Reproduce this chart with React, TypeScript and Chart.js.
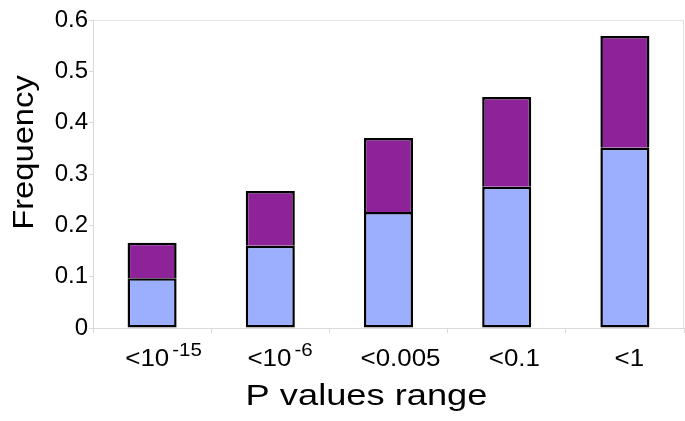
import React, { useEffect, useRef } from "react";
import { Chart, registerables } from "chart.js";

Chart.register(...registerables);

const categoryBase = ["<10", "<10", "<0.005", "<0.1", "<1"];
const categoryExp = ["-15", "-6", "", "", ""];
const lowerValues = [0.097, 0.16, 0.226, 0.275, 0.351];
const upperValues = [0.069, 0.107, 0.144, 0.175, 0.218];
const yTickLabels = ["0", "0.1", "0.2", "0.3", "0.4", "0.5", "0.6"];
const xTitle = "P values range";
const yTitle = "Frequency";

const FONT = "'Liberation Sans', Arial, Helvetica, sans-serif";
const AXIS_GRAY = "#d9d9d9";

const textPlugin = {
  id: "customText",
  beforeDatasetsDraw(chart: any) {
    const { ctx, chartArea } = chart;
    ctx.save();
    ctx.strokeStyle = "#e3e3e3";
    ctx.lineWidth = 1;
    ctx.beginPath();
    ctx.moveTo(chartArea.left, chartArea.top + 0.5);
    ctx.lineTo(chartArea.right - 0.5, chartArea.top + 0.5);
    ctx.lineTo(chartArea.right - 0.5, chartArea.bottom);
    ctx.stroke();
    ctx.restore();
  },
  afterDraw(chart: any) {
    const { ctx, chartArea } = chart;
    const xs = chart.scales.x;
    ctx.save();
    ctx.fillStyle = "#000";
    ctx.textBaseline = "alphabetic";
    ctx.textAlign = "left";
    const sx = 1.08;
    for (let i = 0; i < categoryBase.length; i++) {
      const cx = xs.getPixelForTick(i);
      ctx.font = `24px ${FONT}`;
      const wb = ctx.measureText(categoryBase[i]).width * sx;
      ctx.font = `19px ${FONT}`;
      const we = categoryExp[i] ? ctx.measureText(categoryExp[i]).width * sx + 3 : 0;
      const w = wb + we;
      const left = cx - 0.35 * w;
      ctx.save();
      ctx.translate(left, chartArea.bottom + 38);
      ctx.scale(sx, 1);
      ctx.font = `24px ${FONT}`;
      ctx.fillText(categoryBase[i], 0, 0);
      ctx.restore();
      if (categoryExp[i]) {
        ctx.save();
        ctx.translate(left + wb + 3, chartArea.bottom + 28);
        ctx.scale(sx, 1);
        ctx.font = `19px ${FONT}`;
        ctx.fillText(categoryExp[i], 0, 0);
        ctx.restore();
      }
    }
    // x title
    ctx.save();
    ctx.translate((chartArea.left + chartArea.right) / 2 - 22, chartArea.bottom + 77);
    ctx.scale(1.25, 1);
    ctx.textAlign = "center";
    ctx.font = `29px ${FONT}`;
    ctx.fillText(xTitle, 0, 0);
    ctx.restore();
    // y title
    ctx.save();
    ctx.translate(33, (chartArea.top + chartArea.bottom) / 2 - 21.5);
    ctx.rotate(-Math.PI / 2);
    ctx.scale(1.09, 1);
    ctx.textAlign = "center";
    ctx.font = `30px ${FONT}`;
    ctx.fillText(yTitle, 0, 0);
    ctx.restore();
    ctx.restore();
  },
};

export default function App() {
  const ref = useRef<HTMLCanvasElement | null>(null);
  useEffect(() => {
    document.body.style.margin = "0";
    const canvas = ref.current;
    if (!canvas) return;
    const labels = categoryBase.map((b, i) => b + categoryExp[i]);
    const chart = new Chart(canvas, {
      type: "bar",
      data: {
        labels,
        datasets: [
          {
            label: "lower",
            data: lowerValues,
            backgroundColor: "#9CAFFF",
            borderColor: "#000000",
            borderWidth: 2.5,
            borderSkipped: false,
            inflateAmount: 0,
            barPercentage: 0.415,
            categoryPercentage: 1,
          },
          {
            label: "upper",
            data: upperValues,
            backgroundColor: "#8E2399",
            borderColor: "#000000",
            borderWidth: 2.5,
            borderSkipped: "bottom",
            inflateAmount: 0,
            barPercentage: 0.415,
            categoryPercentage: 1,
          },
        ],
      },
      options: {
        responsive: false,
        maintainAspectRatio: false,
        animation: false,
        layout: { padding: { top: 20, right: 1, left: 0, bottom: 0 } },
        plugins: {
          legend: { display: false },
          tooltip: { enabled: false },
        },
        scales: {
          x: {
            stacked: true,
            offset: true,
            grid: {
              offset: true,
              drawOnChartArea: false,
              drawTicks: true,
              tickLength: 5,
              color: AXIS_GRAY,
            },
            border: { display: true, color: AXIS_GRAY, width: 1 },
            ticks: { display: false },
            afterFit: (scale: any) => {
              scale.height = 93;
            },
          },
          y: {
            stacked: true,
            min: 0,
            max: 0.6,
            grid: {
              drawOnChartArea: false,
              drawTicks: true,
              tickLength: 4,
              color: AXIS_GRAY,
            },
            border: { display: true, color: AXIS_GRAY, width: 1 },
            ticks: {
              stepSize: 0.1,
              padding: 1,
              color: "#000",
              font: { family: FONT, size: 24 },
              callback: (_v: any, i: number) => yTickLabels[i],
            },
            afterFit: (scale: any) => {
              scale.width = 93;
            },
          },
        },
      },
      plugins: [textPlugin],
    });
    return () => chart.destroy();
  }, []);
  return <canvas ref={ref} width={685} height={421} />;
}
